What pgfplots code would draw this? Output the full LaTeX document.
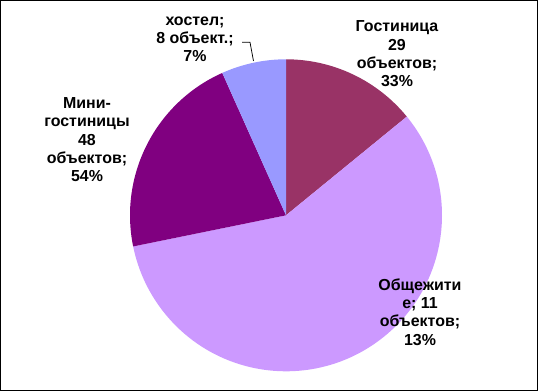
\documentclass[border=0pt]{standalone}
\usepackage{pgfplots}
\usepackage{pgfplotstable}
\pgfplotsset{compat=1.18}
\usepackage{fontspec}
\setmainfont{Liberation Sans}
\definecolor{gost}{HTML}{993366}
\definecolor{obsh}{HTML}{CC99FF}
\definecolor{mini}{HTML}{800080}
\definecolor{host}{HTML}{9999FF}
\pgfplotstableread{
slice value
Gost 14.1
Obsh 57.7
Mini 21.5
Host 6.7
}\piedata
\newcommand\lbl[3]{\node[anchor=base,inner sep=0pt,font=\fontsize{16}{18}\selectfont\bfseries] at ({#1*1bp},{(391-#2)*1bp}) {#3};}
\begin{document}
\begin{tikzpicture}
\pgfplotstablegetelem{0}{value}\of\piedata \let\vA\pgfplotsretval
\pgfplotstablegetelem{1}{value}\of\piedata \let\vB\pgfplotsretval
\pgfplotstablegetelem{2}{value}\of\piedata \let\vC\pgfplotsretval
\pgfplotstablegetelem{3}{value}\of\piedata \let\vD\pgfplotsretval
\pgfmathsetmacro\aA{90}
\pgfmathsetmacro\aB{\aA-3.6*\vA}
\pgfmathsetmacro\aC{\aB-3.6*\vB}
\pgfmathsetmacro\aD{\aC-3.6*\vC}
\pgfmathsetmacro\aE{\aD-3.6*\vD}
\begin{axis}[at={(0,0)},anchor=south west,scale only axis,width=538bp,height=391bp,
  xmin=0,xmax=538,ymin=0,ymax=391,hide axis,clip=false]
\fill[gost] (axis cs:286,175.7) -- ++(\aA:156bp) arc[start angle=\aA,end angle=\aB,radius=156bp] -- cycle;
\fill[obsh] (axis cs:286,175.7) -- ++(\aB:156bp) arc[start angle=\aB,end angle=\aC,radius=156bp] -- cycle;
\fill[mini] (axis cs:286,175.7) -- ++(\aC:156bp) arc[start angle=\aC,end angle=\aD,radius=156bp] -- cycle;
\fill[host] (axis cs:286,175.7) -- ++(\aD:156bp) arc[start angle=\aD,end angle=\aE,radius=156bp] -- cycle;
\end{axis}
% labels
\lbl{195}{25}{хостел;}
\lbl{195}{43.3}{8 объект.;}
\lbl{195}{61.6}{7\%}
\draw[line width=0.75bp] (242bp,348.7bp) -- (250bp,348.7bp) -- (253.5bp,330bp);
\lbl{397}{31.7}{Гостиница}
\lbl{397}{50}{29}
\lbl{397}{68.3}{объектов;}
\lbl{397}{86.6}{33\%}
\lbl{87}{108.3}{Мини-}
\lbl{87}{126.6}{гостиницы}
\lbl{87}{145}{48}
\lbl{87}{163.3}{объектов;}
\lbl{87}{181.6}{54\%}
\lbl{420}{290}{Общежити}
\lbl{420}{308.3}{е; 11}
\lbl{420}{326.6}{объектов;}
\lbl{420}{345}{13\%}
\draw[line width=1bp] (0.5bp,0.5bp) rectangle (537.5bp,390.5bp);
\pgfresetboundingbox
\useasboundingbox (0,0) rectangle (538bp,391bp);
\end{tikzpicture}
\end{document}
